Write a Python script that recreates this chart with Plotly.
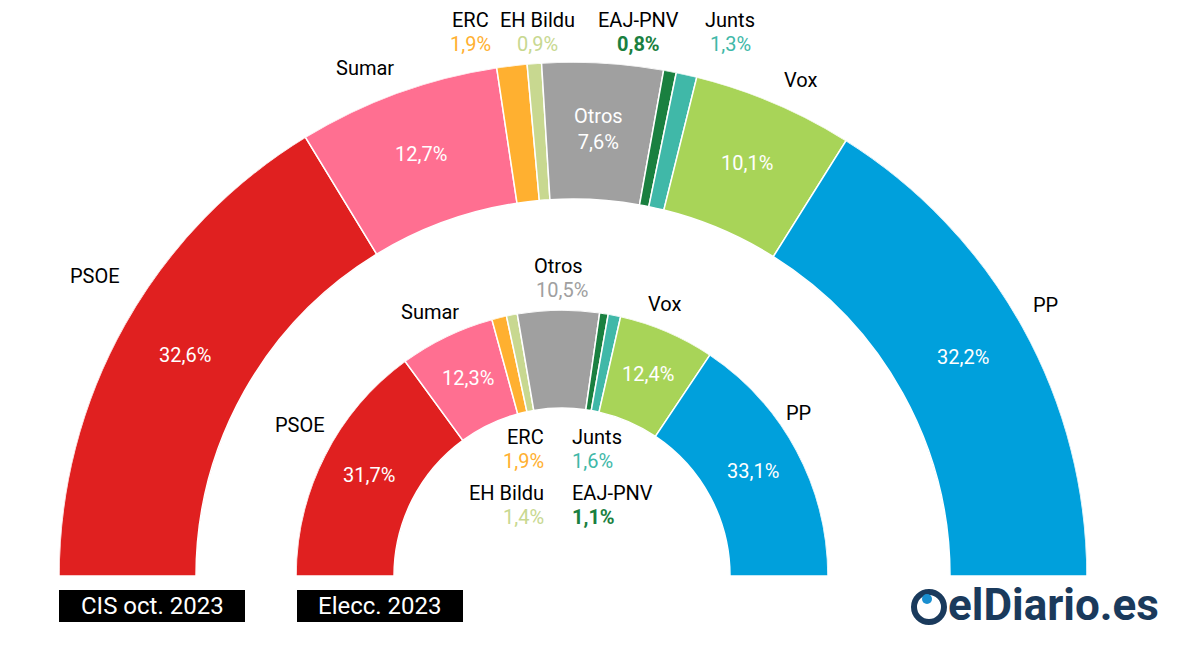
import math
import plotly.graph_objects as go

parties = ["PSOE", "Sumar", "ERC", "EH Bildu", "Otros", "EAJ-PNV", "Junts", "Vox", "PP"]
colors = ["#e02020", "#ff6f91", "#ffb030", "#c8d890", "#a0a0a0", "#1a8040", "#40b8a8", "#a8d458", "#00a0dc"]
cis = [32.6, 12.7, 1.9, 0.9, 7.6, 0.8, 1.3, 10.1, 32.2]
elec = [31.7, 12.3, 1.9, 1.4, 10.5, 1.1, 1.6, 12.4, 33.1]

W, H = 1200, 668
OX, OY = -8, -8       # page offset compensation for texts/shapes
PX, PY = -8, -5       # for polar domains
rings = {"cis": (cis, 573, 573, 377, 514, "polar"), "elec": (elec, 562, 573, 168, 266, "polar2")}

def fmt(v):
    return f"{v:.1f}".replace(".", ",") + "%"

def px(x): return (x + OX) / W
def py(y): return 1 - (y + OY) / H

fig = go.Figure()
centers = {}
layout_polars = {}
for key, (vals, cx, cy, r0, r1, sp) in rings.items():
    s = sum(vals)
    cum = 0
    th, wd = [], []
    for v in vals:
        th.append(180 - (cum + v / 2) / s * 180)
        wd.append(v / s * 180)
        cum += v
    centers[key] = th
    fig.add_trace(go.Barpolar(theta=th, width=wd, r=[r1 - r0] * len(vals), base=[r0] * len(vals),
                              marker=dict(color=colors, line=dict(color="white", width=1.5)),
                              hoverinfo="skip", showlegend=False, subplot=sp))
    layout_polars[sp] = dict(domain=dict(x=[(cx - r1 + PX) / W, (cx + r1 + PX) / W],
                                         y=[1 - (cy + PY) / H, 1 - (cy - r1 + PY) / H]),
                             sector=[0, 180], hole=0, bgcolor="rgba(0,0,0,0)",
                             radialaxis=dict(range=[0, r1], visible=False),
                             angularaxis=dict(visible=False))

fig.update_layout(width=W, height=H, margin=dict(l=0, r=0, t=0, b=0), paper_bgcolor="white",
                  font=dict(family="Roboto", size=20, color="black"), **layout_polars)

def ann(x, y, text, color="black", size=20, anchor="center"):
    fig.add_annotation(x=px(x), y=py(y), xref="paper", yref="paper", text=text,
                       showarrow=False, font=dict(color=color, size=size), xanchor=anchor, yanchor="middle")

def polar_pt(key, theta, r):
    _, cx, cy, _, _, _ = rings[key]
    a = math.radians(theta)
    return cx + r * math.cos(a), cy - r * math.sin(a)

for key in ("cis", "elec"):
    vals, cx, cy, r0, r1, _ = rings[key]
    for i in (0, 1, 7, 8):
        x, y = polar_pt(key, centers[key][i], (r0 + r1) / 2)
        ann(x, y, fmt(vals[i]), "white")
x, y = polar_pt("cis", centers["cis"][4], 445)
ann(x, y, "Otros<br>" + fmt(cis[4]), "white")

ann(95, 276, "PSOE"); ann(365, 68, "Sumar"); ann(800, 80, "Vox"); ann(1045, 305, "PP")
for name, xx, i in (("ERC", 470, 2), ("EH Bildu", 537, 3), ("EAJ-PNV", 638, 5), ("Junts", 730, 6)):
    ann(xx, 20, name); ann(xx, 44, "<b>" + fmt(cis[i]) + "</b>" if i == 5 else fmt(cis[i]), colors[i])
ann(300, 425, "PSOE"); ann(430, 312, "Sumar"); ann(664, 304, "Vox"); ann(798, 413, "PP")
ann(558, 266, "Otros"); ann(562, 290, fmt(elec[4]), colors[4])
for name, xx, yy, i, anc in (("ERC", 546, 437, 2, "right"), ("Junts", 570, 437, 6, "left"),
                             ("EH Bildu", 546, 493, 3, "right"), ("EAJ-PNV", 570, 493, 5, "left")):
    txt = fmt(elec[i])
    ann(xx, yy, name, "black", 20, anc)
    ann(xx, yy + 24, ("<b>" + txt + "</b>") if i == 5 else txt, colors[i], 20, anc)

for x0, x1, t in ((59, 245, "CIS oct. 2023"), (297, 463, "Elecc. 2023")):
    fig.add_shape(type="rect", xref="paper", yref="paper", x0=px(x0), x1=px(x1), y0=py(622), y1=py(590),
                  fillcolor="black", line=dict(width=0))
    ann((x0 + x1) / 2, 606, t, "white", 24)

fig.add_shape(type="circle", xref="paper", yref="paper", x0=px(914), x1=px(944), y0=py(622), y1=py(592),
              line=dict(color="#1a3a5c", width=6))
fig.add_shape(type="circle", xref="paper", yref="paper", x0=px(922), x1=px(932), y0=py(604), y1=py(594),
              fillcolor="#1a8fd0", line=dict(width=0))
ann(946, 605, "<b>elDiario.es</b>", "#1a3a5c", 44, "left")

fig.write_html("out.html")
